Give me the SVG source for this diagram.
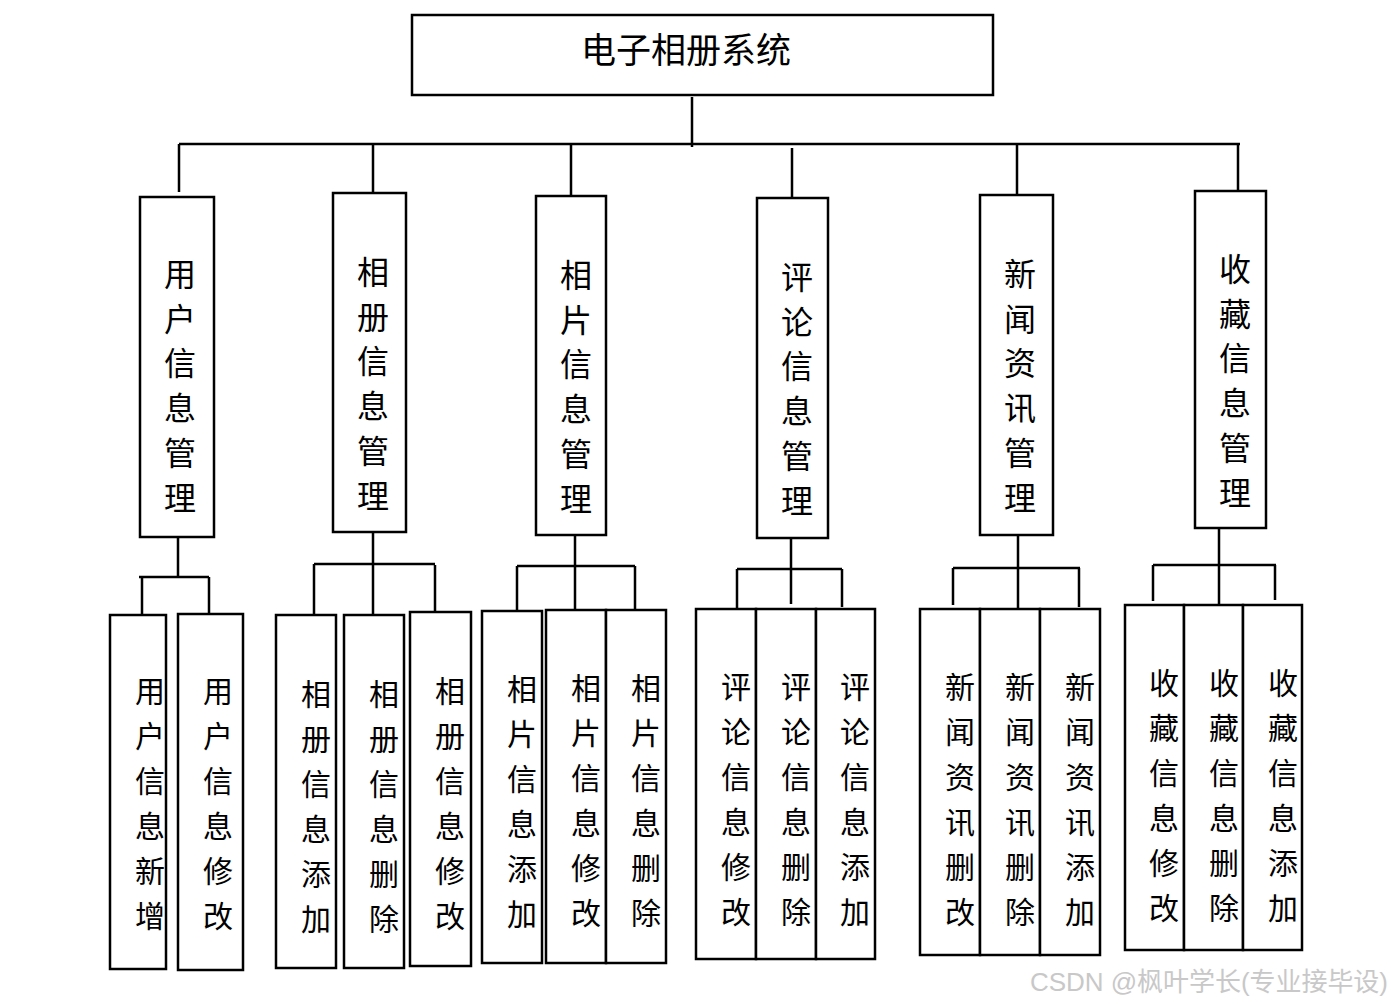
<svg xmlns="http://www.w3.org/2000/svg" width="1391" height="1005" viewBox="0 0 1391 1005">
<style>
.box{fill:#fff;stroke:#000;stroke-width:2.5}
.ln{stroke:#000;stroke-width:2.5;fill:none}
.t{font-family:"Noto Sans CJK SC","Noto Sans",sans-serif;font-size:30px;fill:#000;text-anchor:middle;dominant-baseline:central}
.t1{font-size:32px}
.t0{font-size:35px}
.wm{font-family:"Liberation Sans","Noto Sans CJK SC",sans-serif;font-size:26px;fill:#c8c8c8}
</style>
<rect width="1391" height="1005" fill="#fff"/>
<g id="connectors">
<path class="ln" d="M692 97V147M179 144H1240M179 144V192M373 144V193M571 144V195M792 148V197M1017 144V194M1238 144V190"/>
<path class="ln" d="M178 537V577M139 577H209M142 577V615M209 577V616"/>
<path class="ln" d="M373 532V614M314 564H435M314 564V615M435 565V612"/>
<path class="ln" d="M575 535V609M517 566H635M517 566V610M635 566V610"/>
<path class="ln" d="M791 535V604M737 569H842M737 569V608M842 569V607"/>
<path class="ln" d="M1018 535V608M953 568H1080M953 568V605M1079 568V607"/>
<path class="ln" d="M1219 528V605M1153 565H1276M1153 565V601M1275 565V600"/>
</g>
<g id="root"><rect class="box" x="412" y="15" width="581" height="80"/><text class="t t0" x="686" y="47">电子相册系统</text></g>
<g id="n1"><rect class="box" x="140" y="197" width="74" height="340"/><text class="t t1" x="180"><tspan x="180" y="272">用</tspan><tspan x="180" dy="44.7">户</tspan><tspan x="180" dy="44.7">信</tspan><tspan x="180" dy="44.7">息</tspan><tspan x="180" dy="44.7">管</tspan><tspan x="180" dy="44.7">理</tspan></text></g>
<g id="n2"><rect class="box" x="333" y="193" width="73" height="339"/><text class="t t1"><tspan x="373" y="270">相</tspan><tspan x="373" dy="44.7">册</tspan><tspan x="373" dy="44.7">信</tspan><tspan x="373" dy="44.7">息</tspan><tspan x="373" dy="44.7">管</tspan><tspan x="373" dy="44.7">理</tspan></text></g>
<g id="n3"><rect class="box" x="536" y="196" width="70" height="339"/><text class="t t1"><tspan x="576" y="273">相</tspan><tspan x="576" dy="44.7">片</tspan><tspan x="576" dy="44.7">信</tspan><tspan x="576" dy="44.7">息</tspan><tspan x="576" dy="44.7">管</tspan><tspan x="576" dy="44.7">理</tspan></text></g>
<g id="n4"><rect class="box" x="757" y="198" width="71" height="340"/><text class="t t1"><tspan x="797" y="275">评</tspan><tspan x="797" dy="44.7">论</tspan><tspan x="797" dy="44.7">信</tspan><tspan x="797" dy="44.7">息</tspan><tspan x="797" dy="44.7">管</tspan><tspan x="797" dy="44.7">理</tspan></text></g>
<g id="n5"><rect class="box" x="980" y="195" width="73" height="340"/><text class="t t1"><tspan x="1020" y="272">新</tspan><tspan x="1020" dy="44.7">闻</tspan><tspan x="1020" dy="44.7">资</tspan><tspan x="1020" dy="44.7">讯</tspan><tspan x="1020" dy="44.7">管</tspan><tspan x="1020" dy="44.7">理</tspan></text></g>
<g id="n6"><rect class="box" x="1195" y="191" width="71" height="337"/><text class="t t1"><tspan x="1235" y="267">收</tspan><tspan x="1235" dy="44.7">藏</tspan><tspan x="1235" dy="44.7">信</tspan><tspan x="1235" dy="44.7">息</tspan><tspan x="1235" dy="44.7">管</tspan><tspan x="1235" dy="44.7">理</tspan></text></g>
<g id="n1a"><rect class="box" x="110" y="615" width="56" height="354"/><text class="t"><tspan x="150" y="689">用</tspan><tspan x="150" dy="45">户</tspan><tspan x="150" dy="45">信</tspan><tspan x="150" dy="45">息</tspan><tspan x="150" dy="45">新</tspan><tspan x="150" dy="45">增</tspan></text></g>
<g id="n1b"><rect class="box" x="178" y="614" width="65" height="356"/><text class="t"><tspan x="218" y="689">用</tspan><tspan x="218" dy="45">户</tspan><tspan x="218" dy="45">信</tspan><tspan x="218" dy="45">息</tspan><tspan x="218" dy="45">修</tspan><tspan x="218" dy="45">改</tspan></text></g>
<g id="n2a"><rect class="box" x="276" y="615" width="60" height="353"/><text class="t"><tspan x="316" y="692">相</tspan><tspan x="316" dy="45">册</tspan><tspan x="316" dy="45">信</tspan><tspan x="316" dy="45">息</tspan><tspan x="316" dy="45">添</tspan><tspan x="316" dy="45">加</tspan></text></g>
<g id="n2b"><rect class="box" x="344" y="615" width="60" height="353"/><text class="t"><tspan x="384" y="692">相</tspan><tspan x="384" dy="45">册</tspan><tspan x="384" dy="45">信</tspan><tspan x="384" dy="45">息</tspan><tspan x="384" dy="45">删</tspan><tspan x="384" dy="45">除</tspan></text></g>
<g id="n2c"><rect class="box" x="410" y="612" width="61" height="354"/><text class="t"><tspan x="450" y="689">相</tspan><tspan x="450" dy="45">册</tspan><tspan x="450" dy="45">信</tspan><tspan x="450" dy="45">息</tspan><tspan x="450" dy="45">修</tspan><tspan x="450" dy="45">改</tspan></text></g>
<g id="n3a"><rect class="box" x="482" y="611" width="60" height="352"/><text class="t"><tspan x="522" y="687">相</tspan><tspan x="522" dy="45">片</tspan><tspan x="522" dy="45">信</tspan><tspan x="522" dy="45">息</tspan><tspan x="522" dy="45">添</tspan><tspan x="522" dy="45">加</tspan></text></g>
<g id="n3b"><rect class="box" x="546" y="610" width="60" height="353"/><text class="t"><tspan x="586" y="686">相</tspan><tspan x="586" dy="45">片</tspan><tspan x="586" dy="45">信</tspan><tspan x="586" dy="45">息</tspan><tspan x="586" dy="45">修</tspan><tspan x="586" dy="45">改</tspan></text></g>
<g id="n3c"><rect class="box" x="606" y="610" width="60" height="353"/><text class="t"><tspan x="646" y="686">相</tspan><tspan x="646" dy="45">片</tspan><tspan x="646" dy="45">信</tspan><tspan x="646" dy="45">息</tspan><tspan x="646" dy="45">删</tspan><tspan x="646" dy="45">除</tspan></text></g>
<g id="n4a"><rect class="box" x="696" y="609" width="60" height="350"/><text class="t"><tspan x="736" y="685">评</tspan><tspan x="736" dy="45">论</tspan><tspan x="736" dy="45">信</tspan><tspan x="736" dy="45">息</tspan><tspan x="736" dy="45">修</tspan><tspan x="736" dy="45">改</tspan></text></g>
<g id="n4b"><rect class="box" x="756" y="609" width="60" height="350"/><text class="t"><tspan x="796" y="685">评</tspan><tspan x="796" dy="45">论</tspan><tspan x="796" dy="45">信</tspan><tspan x="796" dy="45">息</tspan><tspan x="796" dy="45">删</tspan><tspan x="796" dy="45">除</tspan></text></g>
<g id="n4c"><rect class="box" x="816" y="609" width="59" height="350"/><text class="t"><tspan x="855" y="685">评</tspan><tspan x="855" dy="45">论</tspan><tspan x="855" dy="45">信</tspan><tspan x="855" dy="45">息</tspan><tspan x="855" dy="45">添</tspan><tspan x="855" dy="45">加</tspan></text></g>
<g id="n5a"><rect class="box" x="920" y="609" width="60" height="346"/><text class="t"><tspan x="960" y="685">新</tspan><tspan x="960" dy="45">闻</tspan><tspan x="960" dy="45">资</tspan><tspan x="960" dy="45">讯</tspan><tspan x="960" dy="45">删</tspan><tspan x="960" dy="45">改</tspan></text></g>
<g id="n5b"><rect class="box" x="980" y="609" width="60" height="346"/><text class="t"><tspan x="1020" y="685">新</tspan><tspan x="1020" dy="45">闻</tspan><tspan x="1020" dy="45">资</tspan><tspan x="1020" dy="45">讯</tspan><tspan x="1020" dy="45">删</tspan><tspan x="1020" dy="45">除</tspan></text></g>
<g id="n5c"><rect class="box" x="1040" y="609" width="60" height="346"/><text class="t"><tspan x="1080" y="685">新</tspan><tspan x="1080" dy="45">闻</tspan><tspan x="1080" dy="45">资</tspan><tspan x="1080" dy="45">讯</tspan><tspan x="1080" dy="45">添</tspan><tspan x="1080" dy="45">加</tspan></text></g>
<g id="n6a"><rect class="box" x="1125" y="605" width="59" height="345"/><text class="t"><tspan x="1164" y="681">收</tspan><tspan x="1164" dy="45">藏</tspan><tspan x="1164" dy="45">信</tspan><tspan x="1164" dy="45">息</tspan><tspan x="1164" dy="45">修</tspan><tspan x="1164" dy="45">改</tspan></text></g>
<g id="n6b"><rect class="box" x="1184" y="605" width="59" height="345"/><text class="t"><tspan x="1224" y="681">收</tspan><tspan x="1224" dy="45">藏</tspan><tspan x="1224" dy="45">信</tspan><tspan x="1224" dy="45">息</tspan><tspan x="1224" dy="45">删</tspan><tspan x="1224" dy="45">除</tspan></text></g>
<g id="n6c"><rect class="box" x="1243" y="605" width="59" height="345"/><text class="t"><tspan x="1283" y="681">收</tspan><tspan x="1283" dy="45">藏</tspan><tspan x="1283" dy="45">信</tspan><tspan x="1283" dy="45">息</tspan><tspan x="1283" dy="45">添</tspan><tspan x="1283" dy="45">加</tspan></text></g>
<text class="wm" x="1030" y="991" textLength="358">CSDN @枫叶学长(专业接毕设)</text>
</svg>
